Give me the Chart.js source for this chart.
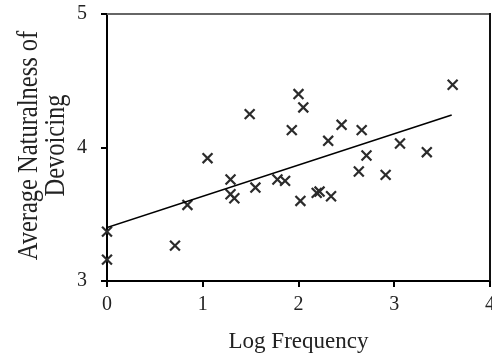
<!DOCTYPE html>
<html>
<head>
<meta charset="utf-8">
<script src="https://cdn.jsdelivr.net/npm/chart.js@4.4.1/dist/chart.umd.min.js"></script>
<style>
html,body{margin:0;padding:0;background:#fff;}
#wrap{width:492px;height:356px;}
</style>
</head>
<body>
<div id="wrap"><canvas id="c" width="492" height="356"></canvas></div>
<script>
const logFrequency = [0, 0, 0.71, 0.84, 1.05, 1.29, 1.29, 1.33, 1.49, 1.55, 1.78, 1.86, 1.93, 2.00, 2.05, 2.02, 2.19, 2.22, 2.34, 2.31, 2.45, 2.66, 2.71, 2.63, 2.91, 3.06, 3.34, 3.61];
const naturalness = [3.37, 3.16, 3.265, 3.57, 3.92, 3.76, 3.65, 3.62, 4.25, 3.70, 3.76, 3.75, 4.13, 4.40, 4.30, 3.60, 3.66, 3.67, 3.635, 4.05, 4.17, 4.13, 3.94, 3.82, 3.795, 4.03, 3.965, 4.47];
const trendX = [0, 3.60];
const trendY = [3.40, 4.243];
const xTicks = [0, 1, 2, 3, 4];
const yTicks = [3, 4, 5];
const yTitleLines = ['Average Naturalness of', 'Devoicing'];
const xTitle = 'Log Frequency';

const points = logFrequency.map((x, i) => ({x: x, y: naturalness[i]}));
const trend = trendX.map((x, i) => ({x: x, y: trendY[i]}));

const frame = {
  id: 'frame',
  afterDatasetsDraw(chart) {
    const {ctx, chartArea: a} = chart;
    ctx.save();
    ctx.lineWidth = 2;
    ctx.strokeStyle = '#666';
    ctx.beginPath(); ctx.moveTo(a.left, a.top); ctx.lineTo(a.right, a.top); ctx.stroke();
    ctx.strokeStyle = '#111';
    ctx.beginPath(); ctx.moveTo(a.right, a.top - 1); ctx.lineTo(a.right, a.bottom); ctx.stroke();
    ctx.restore();
  }
};

// y-axis title, drawn as real text (slightly taller glyphs like the reference)
const yTitle = {
  id: 'yTitle',
  afterDraw(chart) {
    const {ctx, chartArea: a} = chart;
    const cy = (a.top + a.bottom) / 2 - 2;
    const baselines = [37, 63.5];
    ctx.save();
    ctx.fillStyle = '#222';
    ctx.font = '24.5px "Liberation Serif"';
    ctx.textAlign = 'center';
    ctx.textBaseline = 'alphabetic';
    yTitleLines.forEach((t, i) => {
      ctx.save();
      ctx.translate(baselines[i], cy);
      ctx.rotate(-Math.PI / 2);
      ctx.scale(1, 1.2);
      ctx.fillText(t, 0, 0);
      ctx.restore();
    });
    ctx.restore();
  }
};

new Chart(document.getElementById('c'), {
  type: 'scatter',
  data: {
    datasets: [
      {
        type: 'line',
        data: trend,
        borderColor: '#000',
        borderWidth: 1.6,
        pointRadius: 0,
        fill: false
      },
      {
        data: points,
        clip: false,
        pointStyle: 'crossRot',
        pointRadius: 7,
        borderColor: '#2b2b2b',
        backgroundColor: '#2b2b2b',
        pointBorderWidth: 2.2
      }
    ]
  },
  plugins: [frame, yTitle],
  options: {
    responsive: false,
    animation: false,
    layout: {autoPadding: false, padding: {top: 14, right: 2, left: 0, bottom: 0}},
    plugins: {legend: {display: false}, tooltip: {enabled: false}},
    scales: {
      x: {
        type: 'linear',
        min: 0, max: 4,
        afterBuildTicks(s) { s.ticks = xTicks.map(v => ({value: v})); },
        afterFit(s) { s.height = 75; s.paddingRight = 0; s.paddingLeft = 0; },
        grid: {drawOnChartArea: false, drawTicks: true, tickLength: 6, color: '#000', lineWidth: 2},
        border: {display: true, color: '#000', width: 2},
        ticks: {color: '#222', padding: 6, font: {family: 'Liberation Serif', size: 20}},
        title: {display: true, text: xTitle, color: '#222', padding: {top: 2, bottom: 0}, font: {family: 'Liberation Serif', size: 23}}
      },
      y: {
        type: 'linear',
        min: 3, max: 5,
        afterBuildTicks(s) { s.ticks = yTicks.map(v => ({value: v})); },
        afterFit(s) { s.width = 107; s.paddingTop = 0; s.paddingBottom = 0; },
        grid: {drawOnChartArea: false, drawTicks: true, tickLength: 6, color: '#000', lineWidth: 2},
        border: {display: true, color: '#000', width: 2},
        ticks: {color: '#222', padding: 14, font: {family: 'Liberation Serif', size: 20}},
        title: {display: false}
      }
    }
  }
});
</script>
</body>
</html>
